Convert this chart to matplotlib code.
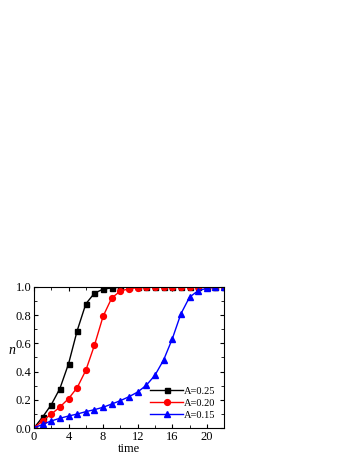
import matplotlib
matplotlib.use('Agg')
import matplotlib.pyplot as plt
from matplotlib.ticker import MultipleLocator

plt.rcParams['font.family'] = ['Liberation Serif', 'DejaVu Serif']
plt.rcParams['mathtext.fontset'] = 'custom'
plt.rcParams['mathtext.it'] = 'Liberation Serif:italic'

times = list(range(0, 23))
n_025 = [0, 0.078, 0.165, 0.28, 0.455, 0.69, 0.88, 0.956, 0.984, 0.993, 0.998,
         1.0, 1.0, 1.0, 1.0, 1.0, 1.0, 1.0, 1.0, 1.0, 1.0, 1.0, 1.0]
n_020 = [0, 0.052, 0.098, 0.149, 0.208, 0.286, 0.409, 0.587, 0.792, 0.922, 0.971,
         0.987, 0.995, 0.998, 1.0, 1.0, 1.0, 1.0, 1.0, 1.0, 1.0, 1.0, 1.0]
n_015 = [0, 0.026, 0.05, 0.069, 0.085, 0.099, 0.116, 0.13, 0.147, 0.17, 0.194,
         0.222, 0.255, 0.303, 0.374, 0.482, 0.631, 0.809, 0.927, 0.974, 0.99, 0.998, 1.0]

fig = plt.figure(figsize=(3.54, 4.58), dpi=100)
ax = fig.add_axes([0.096, 0.0655, 0.537, 0.308])

ax.plot(times, n_025, color='black', marker='s', markersize=3.6, lw=1, label='A=0.25')
ax.plot(times, n_020, color='red', marker='o', markersize=4.2, lw=1, label='A=0.20')
ax.plot(times, n_015, color='blue', marker='^', markersize=4.2, lw=1, label='A=0.15')

ax.set_xlim(0, 22)
ax.set_ylim(0, 1.0)
ax.xaxis.set_major_locator(MultipleLocator(4))
ax.xaxis.set_minor_locator(MultipleLocator(2))
ax.yaxis.set_major_locator(MultipleLocator(0.2))
ax.yaxis.set_minor_locator(MultipleLocator(0.1))
ax.tick_params(which='both', direction='in', top=True, right=True, labelsize=9, pad=2)
ax.tick_params(which='major', length=3)
ax.tick_params(which='minor', length=2)
ax.set_yticklabels(['%.1f' % v for v in ax.get_yticks()])

ax.set_xlabel('time', fontsize=9, labelpad=0)
ax.set_ylabel('$n$', fontsize=10, rotation=0, labelpad=2)

ax.legend(loc='lower right', fontsize=7.5, frameon=False, handlelength=3.2,
          handletextpad=0.1, labelspacing=0.25, borderaxespad=0.4)

fig.savefig('out.png', dpi=100)
